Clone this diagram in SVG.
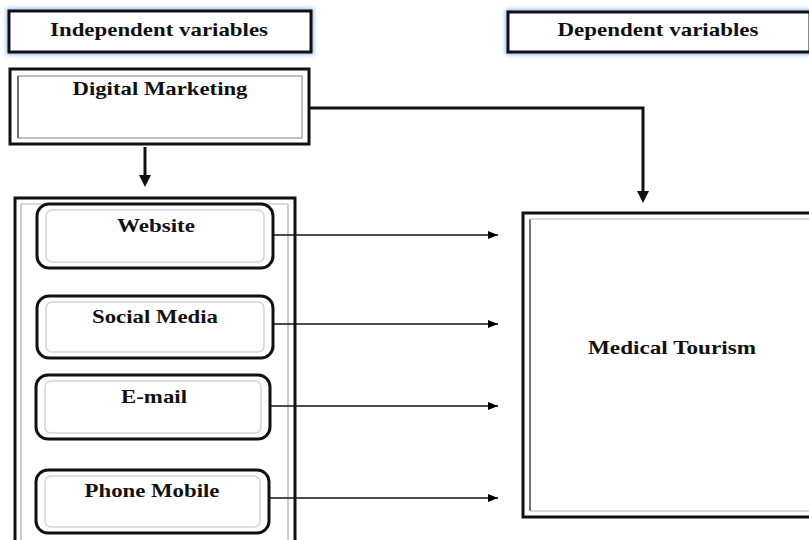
<svg xmlns="http://www.w3.org/2000/svg" width="809" height="540" viewBox="0 0 809 540">
<defs>
<filter id="glow" x="-10%" y="-50%" width="120%" height="200%"><feGaussianBlur stdDeviation="2"/></filter>
<marker id="ah" markerWidth="10" markerHeight="8" refX="10" refY="4" orient="auto" markerUnits="userSpaceOnUse"><path d="M0,0 L10,4 L0,8 Z" fill="#000"/></marker>
</defs>
<style>
text{font-family:"Liberation Serif","Times New Roman",serif;font-weight:bold;font-size:19px;fill:#111;text-anchor:middle}
.outer{fill:#fff;stroke:#111;stroke-width:3}
.inner{fill:none;stroke:#aaa;stroke-width:1.5}
.soft{fill:none;stroke:#d4d4d4;stroke-width:1.5}
.glow{fill:none;stroke:#8ab6ec;stroke-width:5;filter:url(#glow)}
.thin{fill:none;stroke:#111;stroke-width:1.5}
.thick{fill:none;stroke:#111;stroke-width:3}
</style>
<rect width="809" height="540" fill="#fff"/>

<g id="independent-header">
<rect class="glow" x="9" y="11" width="302" height="41"/>
<rect class="outer" x="9" y="11" width="302" height="41"/>
<text x="159" y="36" textLength="218" lengthAdjust="spacingAndGlyphs">Independent variables</text>
</g>

<g id="dependent-header">
<rect class="glow" x="508" y="12" width="302" height="40"/>
<rect class="outer" x="508" y="12" width="302" height="40"/>
<text x="658" y="36" textLength="201" lengthAdjust="spacingAndGlyphs">Dependent variables</text>
</g>

<g id="digital-marketing">
<rect class="outer" x="10" y="69" width="299" height="75"/>
<rect class="inner" x="18" y="76" width="284" height="62"/>
<line x1="18" y1="76" x2="18" y2="138" stroke="#555" stroke-width="1.5"/>
<text x="160" y="95" textLength="175" lengthAdjust="spacingAndGlyphs">Digital Marketing</text>
</g>

<g id="channels-container">
<rect class="outer" x="15" y="198" width="280" height="350"/>
<line x1="21" y1="204" x2="21" y2="540" stroke="#bbb" stroke-width="1.5"/>
<line x1="288" y1="204" x2="288" y2="540" stroke="#bbb" stroke-width="1.5"/>
<line x1="21" y1="204" x2="288" y2="204" stroke="#ccc" stroke-width="1.5"/>
</g>

<g id="website">
<rect class="outer" x="37" y="204" width="236" height="64" rx="12"/>
<rect class="soft" x="46" y="210" width="218" height="52" rx="6"/>
<text x="156" y="232" textLength="78" lengthAdjust="spacingAndGlyphs">Website</text>
</g>

<g id="social-media">
<rect class="outer" x="37" y="296" width="236" height="62" rx="12"/>
<rect class="soft" x="46" y="302" width="218" height="50" rx="6"/>
<text x="155" y="323" textLength="126" lengthAdjust="spacingAndGlyphs">Social Media</text>
</g>

<g id="email">
<rect class="outer" x="36" y="375" width="234" height="64" rx="12"/>
<rect class="soft" x="45" y="381" width="216" height="52" rx="6"/>
<text x="154" y="403" textLength="66" lengthAdjust="spacingAndGlyphs">E-mail</text>
</g>

<g id="phone-mobile">
<rect class="outer" x="36" y="470" width="233" height="63" rx="12"/>
<rect class="soft" x="45" y="476" width="215" height="51" rx="6"/>
<text x="152" y="497" textLength="135" lengthAdjust="spacingAndGlyphs">Phone Mobile</text>
</g>

<g id="medical-tourism">
<rect class="outer" x="523" y="213" width="300" height="304"/>
<line x1="530" y1="219" x2="530" y2="511" stroke="#444" stroke-width="1.5"/>
<line x1="530" y1="219" x2="809" y2="219" stroke="#ccc" stroke-width="1.5"/>
<line x1="530" y1="511" x2="809" y2="511" stroke="#ccc" stroke-width="1.5"/>
<text x="672" y="354" textLength="168" lengthAdjust="spacingAndGlyphs">Medical Tourism</text>
</g>

<g id="connectors">
<path class="thick" d="M145,147 V176"/>
<path d="M139,175 L145,187 L151,175 Z" fill="#111"/>
<path class="thick" d="M310,108 H643 V192"/>
<path d="M637,191 L643,203 L649,191 Z" fill="#111"/>
<line class="thin" x1="273" y1="235" x2="498" y2="235" marker-end="url(#ah)"/>
<line class="thin" x1="273" y1="324" x2="498" y2="324" marker-end="url(#ah)"/>
<line class="thin" x1="270" y1="406" x2="498" y2="406" marker-end="url(#ah)"/>
<line class="thin" x1="269" y1="498" x2="498" y2="498" marker-end="url(#ah)"/>
</g>
</svg>
